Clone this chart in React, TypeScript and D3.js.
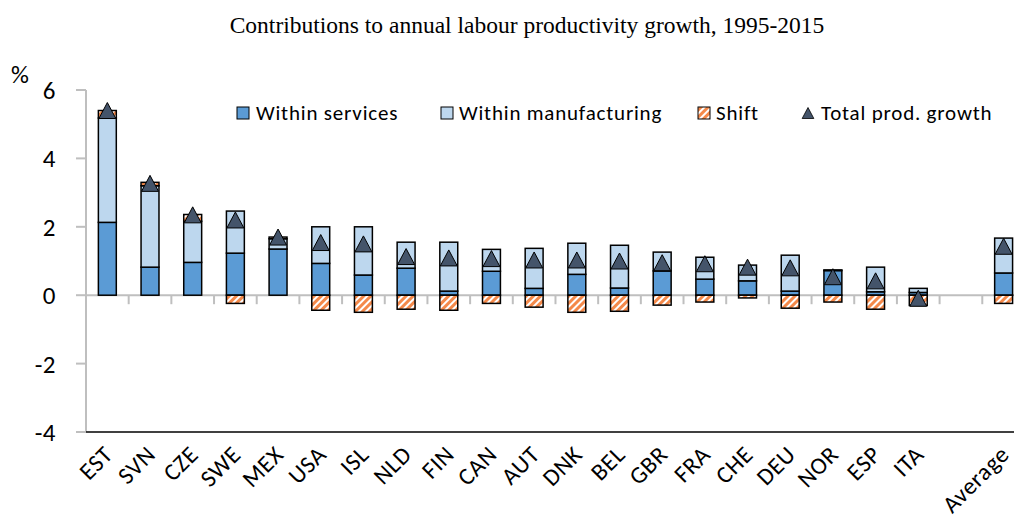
import React from "react";
import * as d3 from "d3";

const categories = ["EST","SVN","CZE","SWE","MEX","USA","ISL","NLD","FIN","CAN","AUT","DNK","BEL","GBR","FRA","CHE","DEU","NOR","ESP","ITA","","Average"];
const withinServices = [2.13,0.82,0.96,1.23,1.35,0.93,0.59,0.79,0.12,0.7,0.2,0.61,0.21,0.71,0.47,0.42,0.12,0.72,0.1,0.08,null,0.65];
const withinManufacturing = [3.05,2.38,1.2,1.23,0.3,1.07,1.41,0.76,1.43,0.64,1.17,0.91,1.25,0.55,0.64,0.46,1.05,0.02,0.72,0.12,null,1.02];
const shift = [0.22,0.1,0.2,-0.24,0.05,-0.44,-0.5,-0.41,-0.44,-0.24,-0.35,-0.5,-0.47,-0.29,-0.2,-0.08,-0.38,-0.2,-0.41,-0.3,null,-0.24];
const totalGrowth = [5.4,3.27,2.35,2.2,1.7,1.54,1.5,1.13,1.09,1.07,1.03,1.03,1.0,0.95,0.92,0.82,0.8,0.54,0.42,-0.09,null,1.43];
const yTicks = [-4,-2,0,2,4,6];
const seriesNames = ["Within services","Within manufacturing","Shift","Total prod. growth"];

const W = 1014, H = 529;
const left = 86, top = 90, bottom = 432;
const step = 42.68;

const COLORS = { services: "#5B9BD5", manuf: "#BDD7EE", tri: "#44546A" };
const SANS = "Carlito, Calibri, Lato, 'Open Sans', sans-serif";

export default function App() {
  const x = d3.scaleBand<string>()
    .domain(categories.map((c, i) => c || `__blank${i}`))
    .range([left, left + step * categories.length])
    .paddingInner(0.58)
    .paddingOuter(0.29);
  const y = d3.scaleLinear().domain([-4, 6]).range([bottom, top]);

  const rows = categories.map((c, i) => ({
    key: c || `__blank${i}`,
    services: withinServices[i] ?? 0,
    manuf: withinManufacturing[i] ?? 0,
    shift: shift[i] ?? 0,
    blank: withinServices[i] == null,
  }));
  const stack = d3.stack<any>().keys(["services", "manuf", "shift"]).offset(d3.stackOffsetDiverging);
  const series = stack(rows);
  const fills: Record<string, string> = { services: COLORS.services, manuf: COLORS.manuf, shift: "url(#hatch)" };

  const bw = x.bandwidth();
  const y0 = y(0);
  const triPath = (s: number) => `M0,${-s}L${s * 1.06},${s}L${-s * 1.06},${s}Z`;

  const legendItems = [
    { sx: 237, tx: 256, name: seriesNames[0], fill: COLORS.services, type: "rect" },
    { sx: 441, tx: 459, name: seriesNames[1], fill: COLORS.manuf, type: "rect" },
    { sx: 698, tx: 716, name: seriesNames[2], fill: "url(#hatch)", type: "rect" },
    { sx: 802, tx: 821, name: seriesNames[3], fill: COLORS.tri, type: "tri" },
  ];

  const boundaries = d3.range(1, categories.length + 1).map((i) => left + step * i);

  return (
    <svg width={W} height={H} style={{ position: "absolute", left: 0, top: 0, background: "#fff" }}>
      <defs>
        <pattern id="hatch" patternUnits="userSpaceOnUse" width="5" height="5" patternTransform="rotate(45)">
          <rect width="5" height="5" fill="#ffffff" />
          <rect width="3" height="5" fill="#F4894A" />
        </pattern>
      </defs>
      <rect width={W} height={H} fill="#fff" />
      <text x={527} y={33} textAnchor="middle" fontFamily="'Liberation Serif', 'Times New Roman', serif" fontSize={23.5} fill="#000">
        Contributions to annual labour productivity growth, 1995-2015
      </text>

      {/* Y axis */}
      <line x1={left} x2={left} y1={top} y2={bottom} stroke="#BFBFBF" strokeWidth={2} />
      {yTicks.map((t) => (
        <g key={t}>
          <line x1={left - 10} x2={left} y1={y(t)} y2={y(t)} stroke="#BFBFBF" strokeWidth={2} />
          <text x={56} y={y(t)} dy="0.36em" textAnchor="end" fontFamily={SANS} fontSize={25} letterSpacing={0.5} fill="#000">{t}</text>
        </g>
      ))}
      <text x={11} y={83} fontFamily={SANS} fontSize={25} fill="#000">%</text>

      {/* bottom frame line */}
      <line x1={left} x2={W} y1={bottom} y2={bottom} stroke="#000" strokeWidth={1.5} />

      {/* zero line with ticks */}
      <line x1={left} x2={W} y1={y0} y2={y0} stroke="#BFBFBF" strokeWidth={2} />
      {boundaries.map((bx, i) => (
        <line key={i} x1={bx} x2={bx} y1={y0} y2={y0 + 9} stroke="#BFBFBF" strokeWidth={2} />
      ))}

      {/* bars */}
      {series.map((s) => (
        <g key={s.key}>
          {s.map((d, i) => {
            if (rows[i].blank) return null;
            const v0 = d[0], v1 = d[1];
            if (Math.abs(v1 - v0) < 1e-9) return null;
            const ya = y(Math.max(v0, v1)), yb = y(Math.min(v0, v1));
            return (
              <rect key={i} x={x(rows[i].key)} y={ya} width={bw} height={yb - ya}
                fill={fills[s.key]} stroke="#000" strokeWidth={1.5} />
            );
          })}
        </g>
      ))}

      {/* total markers */}
      {totalGrowth.map((t, i) => t == null ? null : (
        <path key={i} d={triPath(8)} transform={`translate(${(x(rows[i].key) ?? 0) + bw / 2},${y(t)})`}
          fill={COLORS.tri} stroke="#000" strokeWidth={1} />
      ))}

      {/* category labels */}
      {categories.map((c, i) => c ? (
        <text key={i} fontFamily={SANS} fontSize={24} letterSpacing={0.6} fill="#000" textAnchor="end"
          transform={`translate(${(x(rows[i].key) ?? 0) + bw / 2 + 1},${450}) rotate(-45)`} dy="0.35em">{c}</text>
      ) : null)}

      {/* legend */}
      {legendItems.map((it, i) => (
        <g key={i}>
          {it.type === "rect" ? (
            <rect x={it.sx} y={107} width={12} height={12} fill={it.fill} stroke="#000" strokeWidth={1} />
          ) : (
            <path d={triPath(5.5)} transform={`translate(${it.sx + 6},${113})`} fill={it.fill} stroke="#000" strokeWidth={0.8} />
          )}
          <text x={it.tx} y={113} dy="0.35em" fontFamily={SANS} fontSize={21} letterSpacing={0.8} fill="#000">{it.name}</text>
        </g>
      ))}
    </svg>
  );
}
